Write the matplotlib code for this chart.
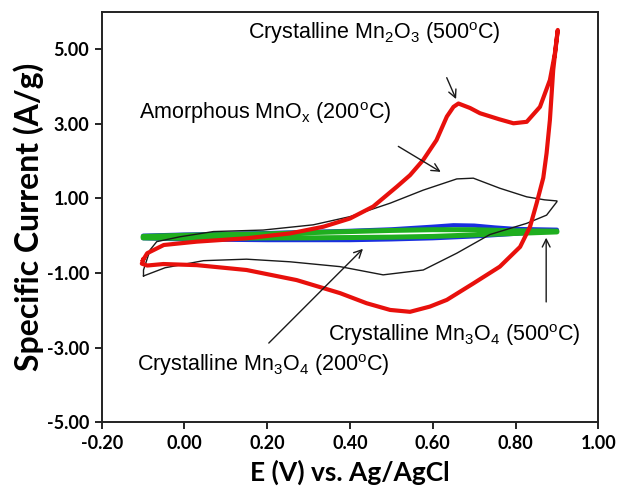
# cyclic voltammograms of MnOx samples, specific current vs potential

import numpy as np
import matplotlib.pyplot as plt

plt.rcParams['mathtext.fontset'] = 'custom'
plt.rcParams['mathtext.rm'] = 'Liberation Sans'
plt.rcParams['mathtext.it'] = 'Liberation Sans:italic'
plt.rcParams['mathtext.bf'] = 'Liberation Sans:bold'

# Crystalline Mn2O3 (500 C), closed loop
red_E = [-0.10, -0.09, -0.05, 0.03, 0.15, 0.255, 0.336, 0.40, 0.456, 0.513, 0.545, 0.577, 0.609, 0.634, 0.650, 0.662,
         0.690, 0.714, 0.760, 0.795, 0.827, 0.859, 0.883, 0.895, 0.902,
         0.891, 0.883, 0.875, 0.867, 0.851, 0.835, 0.811, 0.762, 0.698, 0.634, 0.593, 0.545, 0.497, 0.44, 0.376,
         0.271, 0.15, 0.03, -0.051, -0.090, -0.103, -0.10]
red_I = [-0.65, -0.47, -0.25, -0.16, -0.07, 0.06, 0.24, 0.46, 0.78, 1.31, 1.62, 2.03, 2.56, 3.19, 3.45, 3.54,
         3.42, 3.28, 3.12, 3.01, 3.05, 3.45, 4.17, 4.88, 5.51,
         4.44, 3.10, 2.21, 1.55, 0.87, 0.24, -0.30, -0.83, -1.28, -1.72, -1.90, -2.04, -1.99, -1.81, -1.54,
         -1.19, -0.92, -0.79, -0.76, -0.80, -0.75, -0.65]

# Amorphous MnOx (200 C), closed loop
black_E = [-0.099, -0.099, -0.083, -0.067, -0.011, 0.07, 0.19, 0.311, 0.40, 0.497, 0.577, 0.658, 0.698,
           0.762, 0.827, 0.870, 0.900,
           0.900, 0.875, 0.827, 0.738, 0.658, 0.577, 0.48, 0.376, 0.255, 0.15, 0.046, -0.047, -0.099]
black_I = [-1.08, -0.92, -0.38, -0.16, -0.03, 0.11, 0.15, 0.29, 0.51, 0.87, 1.22, 1.52, 1.54,
           1.27, 1.04, 0.96, 0.93,
           0.91, 0.55, 0.33, 0.03, -0.47, -0.92, -1.05, -0.83, -0.70, -0.63, -0.67, -0.86, -1.08]

# Crystalline Mn3O4 (500 C)
blue_E = [-0.10, 0.0, 0.1, 0.2, 0.3, 0.4, 0.5, 0.6, 0.65, 0.7, 0.75, 0.8, 0.9,
          0.9, 0.8, 0.7, 0.6, 0.5, 0.4, 0.3, 0.2, 0.1, 0.0, -0.10]
blue_I = [0.0, 0.03, 0.05, 0.07, 0.10, 0.13, 0.17, 0.24, 0.28, 0.27, 0.22, 0.18, 0.16,
          0.13, 0.05, -0.02, -0.07, -0.10, -0.12, -0.12, -0.12, -0.11, -0.10, -0.07]

# Crystalline Mn3O4 (200 C)
green_E = [-0.10, 0.0, 0.1, 0.2, 0.3, 0.4, 0.5, 0.6, 0.7, 0.8, 0.9,
           0.9, 0.8, 0.7, 0.6, 0.5, 0.4, 0.3, 0.2, 0.1, 0.0, -0.10]
green_I = [-0.02, 0.01, 0.03, 0.05, 0.08, 0.11, 0.14, 0.16, 0.16, 0.13, 0.12,
           0.10, 0.06, 0.02, -0.02, -0.04, -0.05, -0.06, -0.06, -0.07, -0.07, -0.06]

xticks = [-0.2, 0.0, 0.2, 0.4, 0.6, 0.8, 1.0]
xtick_labels = ['-0.20', '0.00', '0.20', '0.40', '0.60', '0.80', '1.00']
yticks = [-5, -3, -1, 1, 3, 5]
ytick_labels = ['-5.00', '-3.00', '-1.00', '1.00', '3.00', '5.00']

# label text, text position, arrow tail, arrow head
notes = [
    ('Crystalline Mn$_2$O$_3$ (500$^\\mathrm{o}$C)', (0.459, 5.43), (0.631, 4.30), (0.659, 3.59)),
    ('Amorphous MnO$_\\mathrm{x}$ (200$^\\mathrm{o}$C)', (0.195, 3.29), (0.511, 2.43), (0.625, 1.67)),
    ('Crystalline Mn$_3$O$_4$ (200$^\\mathrm{o}$C)', (0.191, -3.47), (0.199, -2.93), (0.436, -0.30)),
    ('Crystalline Mn$_3$O$_4$ (500$^\\mathrm{o}$C)', (0.651, -2.66), (0.874, -1.85), (0.874, 0.02)),
]

fig = plt.figure(figsize=(6.19, 4.93), dpi=100)
ax = fig.add_axes([0.1643, 0.1434, 0.8023, 0.8329])

ax.plot(blue_E, blue_I, color='#1a2fe0', lw=3.0, solid_capstyle='round')
ax.plot(green_E, green_I, color='#1fae1f', lw=3.6, solid_capstyle='round')
ax.plot(black_E, black_I, color='#1a1a1a', lw=1.0)
ax.plot(red_E, red_I, color='#e8100c', lw=3.0, solid_joinstyle='round')

for txt, pos, tail, head in notes:
    ax.text(pos[0], pos[1], txt, ha='center', va='center', fontsize=15.5, family='Liberation Sans')
    ax.annotate('', xy=head, xytext=tail,
                arrowprops=dict(arrowstyle='->', lw=1.0, color='#1a1a1a', mutation_scale=14))

ax.set_xlim(-0.2, 1.0)
ax.set_ylim(-5, 6)
ax.set_xticks(xticks)
ax.set_xticklabels(xtick_labels, fontfamily='Lato', fontweight='bold', fontsize=13)
ax.set_yticks(yticks)
ax.set_yticklabels(ytick_labels, fontfamily='Lato', fontweight='bold', fontsize=13)
ax.tick_params(direction='out', length=5, width=1.2, pad=4)
for s in ax.spines.values():
    s.set_linewidth(1.4)
    s.set_color('#222222')

ax.set_xlabel('E (V) vs. Ag/AgCl', fontfamily='Lato', fontweight='bold', fontsize=19, labelpad=6)
ax.set_ylabel('Specific Current (A/g)', fontfamily='Lato', fontweight='bold', fontsize=23, labelpad=2)

fig.savefig('out.png', dpi=100)
